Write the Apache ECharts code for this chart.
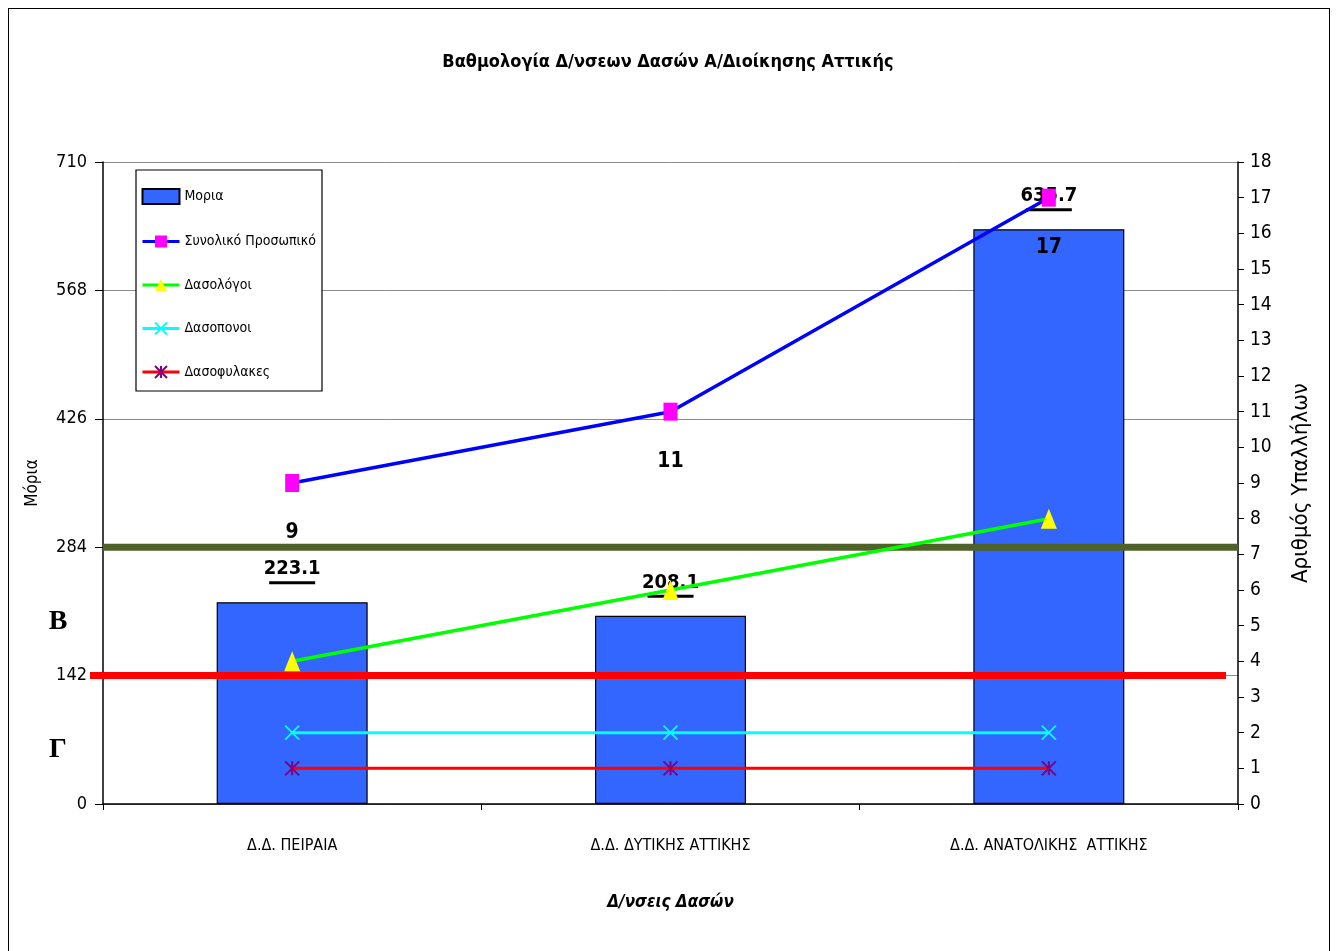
<!DOCTYPE html>
<html><head><meta charset="utf-8">
<script src="https://cdn.jsdelivr.net/npm/echarts@6/dist/echarts.min.js"></script>
<style>
html,body{margin:0;padding:0;background:#fff;}
#frame{position:absolute;left:8px;top:8px;width:1322px;height:960px;border:1.5px solid #000;box-sizing:border-box;}
#c{position:absolute;left:0;top:0;width:1336px;height:951px;}
</style></head>
<body><div id="frame"></div><div id="c"></div>
<script>
const FONT = '"Liberation Sans Narrow", "Arial Narrow", "DejaVu Sans Condensed", sans-serif';
const categories = ['Δ.Δ. ΠΕΙΡΑΙΑ', 'Δ.Δ. ΔΥΤΙΚΗΣ ΑΤΤΙΚΗΣ', 'Δ.Δ. ΑΝΑΤΟΛΙΚΗΣ  ΑΤΤΙΚΗΣ'];
const moria = [223.1, 208.1, 635.7];
const synoliko = [9, 11, 17];
const dasologoi = [4, 6, 8];
const dasoponoi = [2, 2, 2];
const dasofylakes = [1, 1, 1];
const thresholdB = 284;
const thresholdG = 142;
const gradeLabels = [{text: 'Β', value: 201}, {text: 'Γ', value: 60}];

const chart = echarts.init(document.getElementById('c'));
const option = {
  animation: false,
  textStyle: {fontFamily: FONT},
  title: {text: 'Βαθμολογία Δ/νσεων Δασών Α/Διοίκησης Αττικής', left: 'center', top: 48,
    textStyle: {fontFamily: FONT, fontSize: 18, fontWeight: 'bold', color: '#000'}},
  grid: {left: 103, right: 98, top: 162, bottom: 147},
  legend: {
    orient: 'vertical', left: 136, top: 170, itemGap: 29.5, itemWidth: 37, itemHeight: 15,
    borderColor: '#000', borderWidth: 1.2, padding: [18, 6, 12, 5], backgroundColor: '#fff',
    textStyle: {fontFamily: FONT, fontSize: 14, color: '#000'},
    lineStyle: {width: 3},
    data: [{name: 'Μορια', icon: 'rect'}, 'Συνολικό Προσωπικό', 'Δασολόγοι', 'Δασοπονοι', 'Δασοφυλακες']
  },
  xAxis: {
    type: 'category', data: categories,
    name: 'Δ/νσεις Δασών', nameLocation: 'middle', nameGap: 90,
    nameTextStyle: {fontFamily: FONT, fontSize: 17, fontWeight: 'bold', fontStyle: 'italic', color: '#000'},
    axisLine: {lineStyle: {color: '#000', width: 1.5}},
    axisTick: {show: true, length: 6, lineStyle: {color: '#000'}},
    axisLabel: {fontFamily: FONT, fontSize: 16, color: '#000', margin: 34}
  },
  yAxis: [
    {type: 'value', min: 0, max: 710, interval: 142, name: 'Μόρια', nameLocation: 'middle', nameGap: 62,
      nameTextStyle: {fontFamily: FONT, fontSize: 17, color: '#000'},
      axisLine: {show: true, lineStyle: {color: '#000', width: 1.5}},
      axisTick: {show: true, length: 8, lineStyle: {color: '#000'}},
      axisLabel: {fontFamily: FONT, fontSize: 18, color: '#000', margin: 16},
      splitLine: {show: true, lineStyle: {color: '#8c8c8c', width: 1}}},
    {type: 'value', min: 0, max: 18, interval: 1, name: 'Αριθμός Υπαλλήλων', nameLocation: 'middle', nameGap: 52,
      nameTextStyle: {fontFamily: FONT, fontSize: 22, color: '#000'},
      axisLine: {show: true, lineStyle: {color: '#000', width: 1.5}},
      axisTick: {show: true, length: 6, lineStyle: {color: '#000'}},
      axisLabel: {fontFamily: FONT, fontSize: 19, color: '#000', margin: 12},
      splitLine: {show: false}}
  ],
  series: [
    {name: 'Μορια', type: 'bar', data: moria, barWidth: 151, yAxisIndex: 0, z: 1,
      itemStyle: {color: '#3366FF', borderColor: '#000', borderWidth: 1.2},
      label: {show: true, position: 'top', distance: 18,
        formatter: p => '{v|' + p.value + '}\n{u|}',
        rich: {v: {fontFamily: FONT, fontSize: 20, fontWeight: 'bold', color: '#000', lineHeight: 24},
               u: {width: 46, height: 3, backgroundColor: '#000', lineHeight: 3}}}},
    {name: 'Συνολικό Προσωπικό', type: 'line', data: synoliko, yAxisIndex: 1, z: 5,
      lineStyle: {color: '#0000FF', width: 3.5}, symbol: 'rect', symbolSize: [14, 18],
      itemStyle: {color: '#FF00FF'},
      label: {show: true, position: 'bottom', distance: 30,
        fontFamily: FONT, fontSize: 21, fontWeight: 'bold', color: '#000'}},
    {name: 'Δασολόγοι', type: 'line', data: dasologoi, yAxisIndex: 1, z: 5,
      lineStyle: {color: '#00FF00', width: 3.5}, symbol: 'triangle', symbolSize: [16, 20],
      itemStyle: {color: '#FFFF00'}},
    {name: 'Δασοπονοι', type: 'line', data: dasoponoi, yAxisIndex: 1, z: 5,
      lineStyle: {color: '#00FFFF', width: 3}, symbol: 'path://M0,0L10,10M10,0L0,10', symbolSize: 14,
      itemStyle: {color: 'rgba(0,0,0,0)', borderColor: '#00FFFF', borderWidth: 2}},
    {name: 'Δασοφυλακες', type: 'line', data: dasofylakes, yAxisIndex: 1, z: 5,
      lineStyle: {color: '#FF0000', width: 3}, symbol: 'path://M0,0L10,10M10,0L0,10M5,0L5,10', symbolSize: 14,
      itemStyle: {color: 'rgba(0,0,0,0)', borderColor: '#800080', borderWidth: 2}}
  ]
};
chart.setOption(option);

function addGraphics() {
  const yB = chart.convertToPixel({yAxisIndex: 0}, thresholdB);
  const yG = chart.convertToPixel({yAxisIndex: 0}, thresholdG);
  const g = [
    {type: 'line', z: 3, shape: {x1: 103, y1: yB, x2: 1238, y2: yB}, style: {stroke: '#4F6228', lineWidth: 7}},
    {type: 'line', z: 3, shape: {x1: 90, y1: yG, x2: 1226, y2: yG}, style: {stroke: '#FF0000', lineWidth: 7}}
  ];
  gradeLabels.forEach(l => {
    g.push({type: 'text', z: 10, x: 58, y: chart.convertToPixel({yAxisIndex: 0}, l.value),
      style: {text: l.text, fontFamily: '"Liberation Serif", "DejaVu Serif", serif', fontSize: 28, fontWeight: 'bold',
        fill: '#000', align: 'center', verticalAlign: 'middle'}});
  });
  chart.setOption({graphic: g});
}
addGraphics();
</script>
</body></html>
